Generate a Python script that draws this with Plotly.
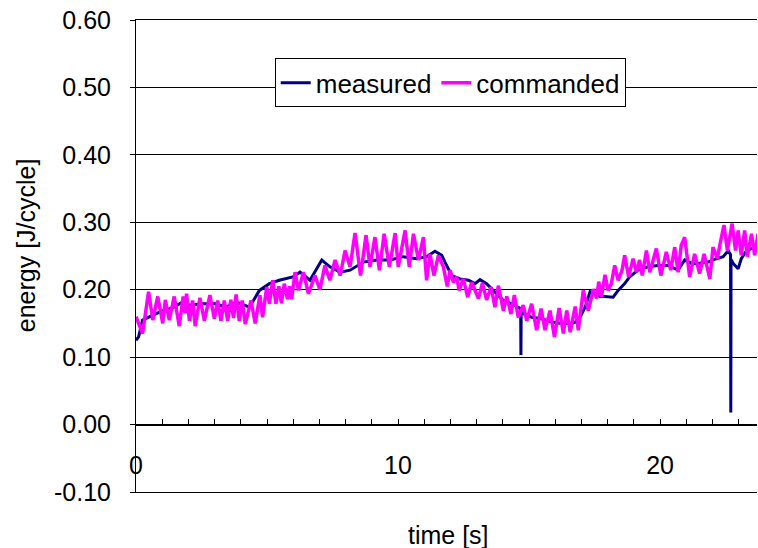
import plotly.graph_objects as go

# ---- data ----
measured_t = [0.00, 0.10, 0.25, 0.64, 1.02, 1.40, 1.78, 2.04, 2.54, 3.05, 3.43, 3.82, 4.33, 4.71,
              5.09, 5.47, 5.98, 6.26, 6.64, 7.09, 7.40, 7.79, 8.17, 8.68, 9.19, 9.70, 10.20, 10.71,
              11.09, 11.41, 11.67, 11.79, 12.05, 12.37, 12.69, 12.94, 13.13, 13.38, 13.70, 14.02,
              14.34, 14.66, 14.68, 14.69, 14.70, 15.10, 15.48, 15.87, 16.25, 16.63, 16.88, 17.14,
              17.33, 17.58, 17.70, 17.89, 18.21, 18.40, 18.65, 18.84, 19.16, 19.54, 19.92, 20.31,
              20.69, 20.94, 21.20, 21.45, 21.83, 22.15, 22.41, 22.60, 22.69, 22.70, 22.71, 22.79,
              22.98, 23.10, 23.30, 23.55, 23.74]
measured_e = [0.125, 0.130, 0.155, 0.162, 0.169, 0.173, 0.182, 0.177, 0.179, 0.179, 0.174, 0.182,
              0.174, 0.199, 0.209, 0.214, 0.219, 0.226, 0.214, 0.244, 0.234, 0.226, 0.229, 0.241,
              0.244, 0.244, 0.249, 0.246, 0.249, 0.257, 0.251, 0.241, 0.221, 0.216, 0.214, 0.209,
              0.215, 0.209, 0.197, 0.184, 0.179, 0.172, 0.172, 0.103, 0.166, 0.159, 0.157, 0.152,
              0.150, 0.150, 0.154, 0.174, 0.197, 0.194, 0.190, 0.190, 0.189, 0.199, 0.209, 0.219,
              0.229, 0.234, 0.236, 0.236, 0.229, 0.244, 0.239, 0.239, 0.241, 0.246, 0.249, 0.258,
              0.252, 0.018, 0.245, 0.239, 0.231, 0.246, 0.258, 0.262, 0.262]

commanded_t = [0.00, 0.25, 0.48, 0.64, 0.83, 1.02, 1.12, 1.27, 1.46, 1.65, 1.80, 1.87, 1.93, 2.04,
               2.16, 2.26, 2.44, 2.61, 2.82, 2.99, 3.12, 3.24, 3.37, 3.50, 3.62, 3.72, 3.82, 3.94,
               4.05, 4.17, 4.39, 4.55, 4.73, 4.83, 4.99, 5.09, 5.22, 5.34, 5.45, 5.55, 5.66, 5.78,
               5.86, 5.94, 6.07, 6.20, 6.39, 6.58, 6.83, 7.02, 7.21, 7.40, 7.60, 7.79, 7.98, 8.17,
               8.36, 8.57, 8.78, 8.93, 9.12, 9.29, 9.47, 9.67, 9.89, 10.01, 10.27, 10.43, 10.59,
               10.78, 10.97, 11.09, 11.22, 11.37, 11.54, 11.73, 11.88, 11.99, 12.11, 12.24, 12.33,
               12.49, 12.66, 12.81, 13.07, 13.22, 13.38, 13.55, 13.70, 13.83, 14.02, 14.15, 14.31,
               14.44, 14.59, 14.78, 14.91, 15.10, 15.29, 15.46, 15.61, 15.80, 15.97, 16.15, 16.31,
               16.44, 16.57, 16.76, 16.88, 17.07, 17.26, 17.46, 17.58, 17.66, 17.76, 17.90, 18.02,
               18.14, 18.27, 18.40, 18.55, 18.65, 18.80, 18.97, 19.10, 19.22, 19.32, 19.48, 19.61,
               19.86, 20.03, 20.24, 20.41, 20.56, 20.69, 20.81, 20.94, 21.13, 21.32, 21.51, 21.68,
               21.90, 22.02, 22.19, 22.28, 22.44, 22.57, 22.75, 22.88, 22.98, 23.10, 23.23, 23.33,
               23.49, 23.61, 23.74]
commanded_e = [0.160, 0.135, 0.197, 0.155, 0.190, 0.150, 0.185, 0.155, 0.190, 0.146, 0.190, 0.165,
               0.194, 0.154, 0.184, 0.146, 0.188, 0.154, 0.192, 0.157, 0.184, 0.154, 0.184, 0.154,
               0.185, 0.158, 0.193, 0.154, 0.184, 0.149, 0.184, 0.150, 0.192, 0.159, 0.204, 0.179,
               0.214, 0.179, 0.205, 0.180, 0.209, 0.186, 0.205, 0.186, 0.226, 0.199, 0.226, 0.194,
               0.221, 0.200, 0.236, 0.214, 0.244, 0.221, 0.258, 0.234, 0.284, 0.221, 0.281, 0.234,
               0.278, 0.229, 0.283, 0.234, 0.284, 0.234, 0.288, 0.234, 0.283, 0.244, 0.278, 0.214,
               0.253, 0.221, 0.251, 0.234, 0.205, 0.229, 0.211, 0.219, 0.199, 0.216, 0.189, 0.211,
               0.187, 0.210, 0.185, 0.204, 0.174, 0.206, 0.169, 0.190, 0.164, 0.192, 0.159, 0.177,
               0.154, 0.179, 0.140, 0.172, 0.140, 0.169, 0.130, 0.173, 0.135, 0.169, 0.137, 0.175,
               0.140, 0.199, 0.169, 0.201, 0.187, 0.212, 0.189, 0.222, 0.199, 0.209, 0.236, 0.214,
               0.229, 0.251, 0.219, 0.246, 0.226, 0.244, 0.221, 0.258, 0.226, 0.261, 0.221, 0.256,
               0.229, 0.263, 0.226, 0.266, 0.278, 0.219, 0.253, 0.224, 0.253, 0.216, 0.263, 0.246,
               0.266, 0.296, 0.258, 0.298, 0.258, 0.288, 0.251, 0.288, 0.249, 0.283, 0.251, 0.283]

y_tick_vals = [-0.10, 0.00, 0.10, 0.20, 0.30, 0.40, 0.50, 0.60]
y_tick_labels = ["-0.10", "0.00", "0.10", "0.20", "0.30", "0.40", "0.50", "0.60"]
x_tick_vals = [0, 10, 20]
x_tick_labels = ["0", "10", "20"]
x_title = "time [s]"
y_title = "energy [J/cycle]"

X_RANGE = [0, 23.7]
Y_RANGE = [-0.1, 0.6]

fig = go.Figure()
fig.add_trace(go.Scatter(x=measured_t, y=measured_e, mode="lines", name="measured",
                         line=dict(color="#000080", width=3), xaxis="x", yaxis="y"))
fig.add_trace(go.Scatter(x=commanded_t, y=commanded_e, mode="lines", name="commanded",
                         line=dict(color="#FF00FF", width=3.5), xaxis="x2", yaxis="y"))

zero_pos = (0 - Y_RANGE[0]) / (Y_RANGE[1] - Y_RANGE[0])

fig.update_layout(
    width=758, height=548,
    margin=dict(l=136, r=1, t=20, b=56),
    plot_bgcolor="white", paper_bgcolor="white",
    font=dict(family="Liberation Sans, Arial, sans-serif", size=25, color="black"),
    showlegend=True,
    legend=dict(orientation="h", x=0.506, xanchor="center", y=0.919, yanchor="top",
                bgcolor="white", bordercolor="black", borderwidth=1,
                font=dict(size=26)),
    xaxis=dict(range=X_RANGE, showgrid=False, zeroline=False, showline=True, linecolor="black",
               linewidth=1, mirror="all", ticks="", showticklabels=False, automargin=False),
    xaxis2=dict(range=X_RANGE, overlaying="x", anchor="free", position=zero_pos,
                showgrid=False, zeroline=False, showline=True, linecolor="black", linewidth=1,
                tickmode="array", tickvals=x_tick_vals, ticktext=x_tick_labels,
                ticks="inside", ticklen=6, tickcolor="black",
                minor=dict(dtick=1, tick0=0, ticks="inside", ticklen=6, tickcolor="black"),
                ticklabelstandoff=18, ticklabeloverflow="allow", automargin=False),
    yaxis=dict(range=Y_RANGE, tickmode="array", tickvals=y_tick_vals, ticktext=y_tick_labels,
               showgrid=True, gridcolor="black", gridwidth=1, zeroline=False,
               showline=True, linecolor="black", linewidth=1, ticks="outside", ticklen=5,
               tickcolor="black", ticklabelstandoff=14, ticklabeloverflow="allow",
               automargin=False),
    annotations=[
        dict(text=x_title, xref="paper", yref="paper", x=0.503, y=-0.091,
             xanchor="center", yanchor="middle", showarrow=False, font=dict(size=25)),
        dict(text=y_title, xref="paper", yref="paper", x=-0.177, y=0.523, textangle=-90,
             xanchor="center", yanchor="middle", showarrow=False, font=dict(size=25)),
    ],
)

# remove the browser's default page margin so the 758x548 figure fills the window
fig.write_html("out.html",
               config={"displayModeBar": False},
               post_script="document.body.style.margin='0';document.body.style.overflow='hidden';")
